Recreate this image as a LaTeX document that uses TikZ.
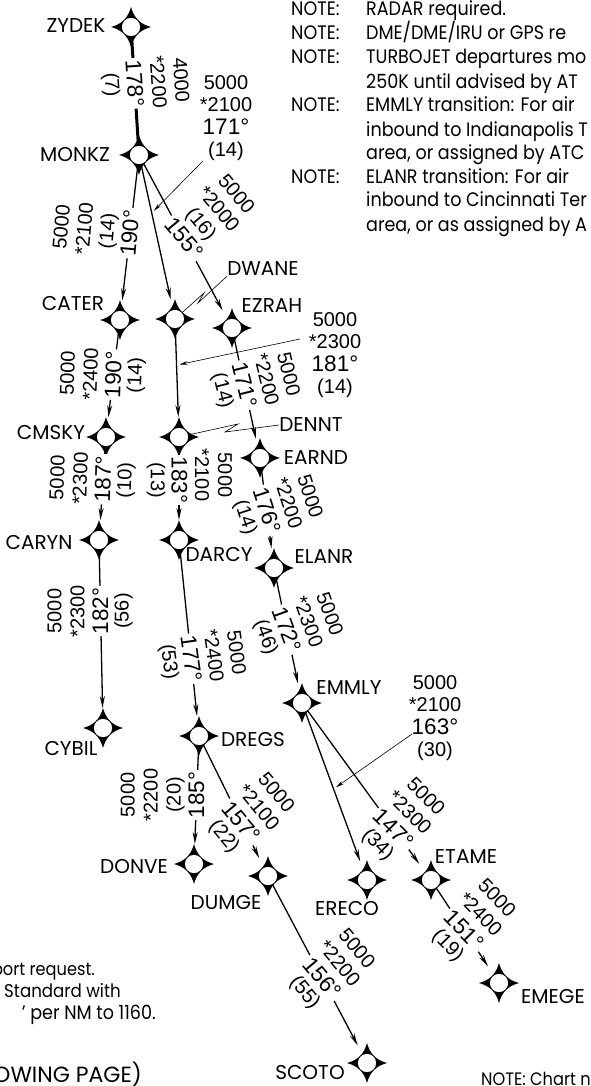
\documentclass[tikz,border=0pt]{standalone}
\usepackage{fontspec}
\setmainfont{Poppins}
\newfontfamily\figs{Liberation Sans}
\newfontfamily\notefont{Poppins}[FakeStretch=0.9]
\usetikzlibrary{arrows.meta}

\begin{document}
\begin{tikzpicture}[x=1pt, y=-1pt,
    fix/.style={circle, inner sep=0pt, minimum size=18.5pt,
        append after command={\pgfextra{\let\fixname\tikzlastnode
        \fill[shift={(\fixname.center)}, even odd rule] (0,-20)
            .. controls (3,-9) and (9,-3) .. (20,0)
            .. controls (9,3) and (3,9) .. (0,20)
            .. controls (-3,9) and (-9,3) .. (-20,0)
            .. controls (-9,-3) and (-3,-9) .. (0,-20)
            (0,0) circle (9.2);}}},
    tag/.style={font=\fontsize{20}{22}\selectfont, inner sep=0pt},
    leg/.style={line width=1.3pt, -{Stealth[length=12pt,width=5pt]}, shorten >=10.5pt},
    heavy/.style={line width=3pt},
    leader/.style={line width=0.6pt},
    pointer/.style={leader, -{Stealth[length=8pt,width=3.5pt]}, shorten >=3pt},
    course/.style={font=\figs\fontsize{22.5}{23}\selectfont, fill=white, inner xsep=2pt, inner ysep=0pt, text height=16pt, text depth=1pt},
    alts/.style={font=\figs\fontsize{20}{23}\selectfont, align=center, inner sep=0pt, outer sep=3pt, text height=16pt, text depth=4pt},
    callout/.style={align=center, inner sep=0pt, font=\figs\fontsize{20}{22.5}\selectfont},
    note/.style={font=\notefont\fontsize{19.5}{20}\selectfont, inner sep=0pt, anchor=west, text height=14pt, text depth=4pt, yshift=-2pt}]
    \clip (0,0) rectangle (590,1086);
    % fixes
    \node[fix] (ZYDEK) at (131,27) {};
    \node[fix] (MONKZ) at (139,155) {};
    \node[fix] (CATER) at (120,320) {};
    \node[fix] (DWANE) at (175,319) {};
    \node[fix] (EZRAH) at (232,328) {};
    \node[fix] (CMSKY) at (106,437) {};
    \node[fix] (DENNT) at (179,437) {};
    \node[fix] (EARND) at (260,458) {};
    \node[fix] (CARYN) at (99,540) {};
    \node[fix] (DARCY) at (179,540) {};
    \node[fix] (ELANR) at (274,568) {};
    \node[fix] (EMMLY) at (302,703) {};
    \node[fix] (CYBIL) at (103,728) {};
    \node[fix] (DREGS) at (199,736) {};
    \node[fix] (DONVE) at (194,864) {};
    \node[fix] (DUMGE) at (268,876) {};
    \node[fix] (ERECO) at (367,880) {};
    \node[fix] (ETAME) at (431,880) {};
    \node[fix] (EMEGE) at (499,983) {};
    \node[fix] (SCOTO) at (367,1063) {};
    % fix names
    \node[tag] (tZYDEK) at (76,26) {ZYDEK};
    \node[tag] (tMONKZ) at (75,155) {MONKZ};
    \node[tag] (tCATER) at (73,303) {CATER};
    \node[tag] (tDWANE) at (263,269) {DWANE};
    \node[tag] (tEZRAH) at (272,306) {EZRAH};
    \node[tag] (tCMSKY) at (51,433) {CMSKY};
    \node[tag] (tDENNT) at (311,425) {DENNT};
    \node[tag] (tEARND) at (316,458) {EARND};
    \node[tag] (tCARYN) at (39,542) {CARYN};
    \node[tag] (tDARCY) at (219,554) {DARCY};
    \node[tag] (tELANR) at (324,557) {ELANR};
    \node[tag] (tEMMLY) at (349,688) {EMMLY};
    \node[tag] (tCYBIL) at (71,748) {CYBIL};
    \node[tag] (tDREGS) at (253,740) {DREGS};
    \node[tag] (tDONVE) at (134,867) {DONVE};
    \node[tag] (tDUMGE) at (226,903) {DUMGE};
    \node[tag] (tERECO) at (347,908) {ERECO};
    \node[tag] (tETAME) at (466,857) {ETAME};
    \node[tag] (tEMEGE) at (553,996) {EMEGE};
    \node[tag] (tSCOTO) at (310,1072) {SCOTO};
    % legs
    \draw[heavy] (ZYDEK) -- node[course, pos=.43, rotate=-86] (c178) {178°} (MONKZ);
    \node[alts, rotate=-86, anchor=south] at (c178.north) {4000\\*2200};
    \node[alts, rotate=-86, anchor=north] at (c178.south) {(7)};
    \draw[leg] (MONKZ) -- node[course, pos=.47, rotate=85] (c190a) {190°} (CATER);
    \node[alts, rotate=85, anchor=south] at (c190a.north) {5000\\*2100\\(14)};
    \draw[leg] (MONKZ) -- coordinate[pos=.335] (on171) (DWANE);
    \draw[leg] (MONKZ) -- node[course, pos=.48, rotate=-50] (c155) {155°} (EZRAH);
    \node[alts, rotate=-50, anchor=south] at (c155.north) {5000\\*2000\\(16)};
    \draw[leg] (CATER) -- node[course, pos=.46, rotate=88] (c190b) {190°} (CMSKY);
    \node[alts, rotate=88, anchor=south] at (c190b.north) {5000\\*2400};
    \node[alts, rotate=88, anchor=north] at (c190b.south) {(14)};
    \draw[leg] (CMSKY) -- node[course, pos=.39, rotate=88] (c187) {187°} (CARYN);
    \node[alts, rotate=88, anchor=south] at (c187.north) {5000\\*2300};
    \node[alts, rotate=88, anchor=north] at (c187.south) {(10)};
    \draw[leg] (CARYN) -- node[course, pos=.364, rotate=90] (c182) {182°} (CYBIL);
    \node[alts, rotate=90, anchor=south] at (c182.north) {5000\\*2300};
    \node[alts, rotate=90, anchor=north] at (c182.south) {(56)};
    \draw[leg] (DWANE) -- coordinate[pos=.37] (on181) (DENNT);
    \draw[leg] (DENNT) -- node[course, pos=.4, rotate=-90] (c183) {183°} (DARCY);
    \node[alts, rotate=-90, anchor=south] at ([yshift=5pt]c183.north) {5000\\*2100};
    \node[alts, rotate=-90, anchor=north] at (c183.south) {(13)};
    \draw[leg] (DARCY) -- node[course, pos=.617, rotate=-82] (c177) {177°} (DREGS);
    \node[alts, rotate=-82, anchor=south] at (c177.north) {5000\\*2400};
    \node[alts, rotate=-82, anchor=north] at (c177.south) {(53)};
    \draw[leg] (DREGS) -- node[course, pos=.454, rotate=90] (c185) {185°} (DONVE);
    \node[alts, rotate=90, anchor=south] at (c185.north) {5000\\*2200\\(20)};
    \draw[leg] (DREGS) -- node[course, pos=.63, rotate=-50] (c157) {157°} (DUMGE);
    \node[alts, rotate=-50, anchor=south] at (c157.north) {5000\\*2100};
    \node[alts, rotate=-50, anchor=north] at (c157.south) {(22)};
    \draw[leg] (DUMGE) -- node[course, pos=.55, rotate=-50] (c156) {156°} (SCOTO);
    \node[alts, rotate=-50, anchor=south] at (c156.north) {5000\\*2200};
    \node[alts, rotate=-50, anchor=north] at (c156.south) {(55)};
    \draw[leg] (EZRAH) -- node[course, pos=.43, rotate=-76] (c171) {171°} (EARND);
    \node[alts, rotate=-76, anchor=south] at (c171.north) {5000\\*2200};
    \node[alts, rotate=-76, anchor=north] at (c171.south) {(14)};
    \draw[leg] (EARND) -- node[course, pos=.47, rotate=-72] (c176) {176°} (ELANR);
    \node[alts, rotate=-72, anchor=south] at (c176.north) {5000\\*2200};
    \node[alts, rotate=-72, anchor=north] at (c176.south) {(14)};
    \draw[leg] (ELANR) -- node[course, pos=.45, rotate=-70] (c172) {172°} (EMMLY);
    \node[alts, rotate=-70, anchor=south] at (c172.north) {5000\\*2300};
    \node[alts, rotate=-70, anchor=north] at (c172.south) {(46)};
    \draw[leg] (EMMLY) -- coordinate[pos=.484] (on163) (ERECO);
    \draw[leg] (EMMLY) -- node[course, pos=.73, rotate=-45] (c147) {147°} (ETAME);
    \node[alts, rotate=-45, anchor=south] at (c147.north) {5000\\*2300};
    \node[alts, rotate=-45, anchor=north] at (c147.south) {(34)};
    \draw[leg] (ETAME) -- node[course, pos=.484, rotate=-46] (c151) {151°} (EMEGE);
    \node[alts, rotate=-46, anchor=south] at (c151.north) {5000\\*2400};
    \node[alts, rotate=-46, anchor=north] at (c151.south) {(19)};
    % transitions off the main legs
    \node[callout] (a171) at (226,118) {5000\\*2100\\{\fontsize{22.5}{22.5}\selectfont 171°}\\(14)};
    \node[callout] (a181) at (335,355) {5000\\*2300\\{\fontsize{22.5}{22.5}\selectfont 181°}\\(14)};
    \node[callout] (a163) at (435,718) {5000\\*2100\\{\fontsize{22.5}{22.5}\selectfont 163°}\\(30)};
    \coordinate (s171) at (203,161);
    \coordinate (s181) at (300,339);
    \coordinate (s163) at (412,734);
    \draw[pointer] (s171) -- (on171);
    \draw[pointer] (s181) -- (on181);
    \draw[pointer] (s163) -- (on163);
    \draw[leader] (tDWANE.south west) -- (198,303) -- (204,293) -- (DWANE);
    \draw[leader] (tDENNT.west) -- (225,432) -- (238,424) -- (DENNT);
    % notes
    \node[note] (n1) at (291,9) {NOTE:};
    \node[note] (n2) at (291,33) {NOTE:};
    \node[note] (n3) at (291,57) {NOTE:};
    \node[note] (n4) at (291,105) {NOTE:};
    \node[note] (n5) at (291,177) {NOTE:};
    \node[note] (l1) at (366,9) {RADAR required.};
    \node[note] (l2) at (366,33) {DME/DME/IRU or GPS re};
    \node[note] (l3) at (366,57) {TURBOJET departures mo};
    \node[note] (l4) at (366,82) {250K until advised by AT};
    \node[note] (l5) at (366,105) {EMMLY transition: For air};
    \node[note] (l6) at (366,130) {inbound to Indianapolis T};
    \node[note] (l7) at (366,153) {area, or assigned by ATC};
    \node[note] (l8) at (366,177) {ELANR transition: For air};
    \node[note] (l9) at (366,200) {inbound to Cincinnati Ter};
    \node[note] (l10) at (366,224) {area, or as assigned by A};
    \node[note, anchor=east, font=\notefont\fontsize{18}{20}\selectfont] (r1) at (95,968) {port request.};
    \node[note, anchor=east, font=\notefont\fontsize{18.5}{20}\selectfont] (r2) at (121,990) {Standard with};
    \node[note, anchor=east] (r3) at (156,1012) {’ per NM to 1160.};
    \node[note, anchor=east, font=\fontsize{22}{22}\selectfont] (r4) at (142,1075) {OWING PAGE)};
    \node[note, font=\notefont\fontsize{18}{18}\selectfont] (r5) at (481,1078) {NOTE: Chart n};
\end{tikzpicture}
\end{document}
